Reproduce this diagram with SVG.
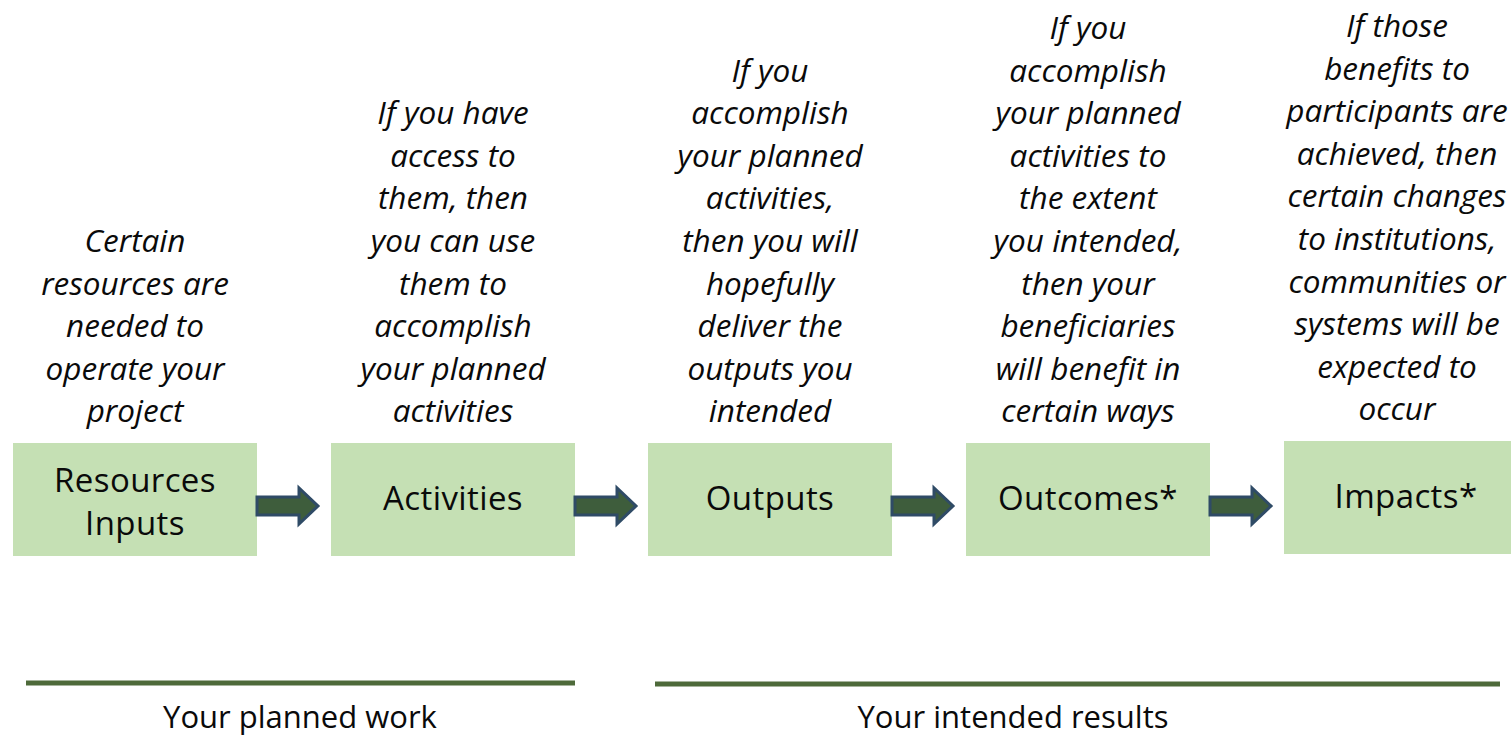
<svg xmlns="http://www.w3.org/2000/svg" xmlns:xlink="http://www.w3.org/1999/xlink" width="1511" height="736" viewBox="0 0 1511 736">
<style>
.box{fill:#c5e0b4;}
.lbl{font-family:"Open Sans","Noto Sans","Liberation Sans",sans-serif;font-size:33px;letter-spacing:0.4px;fill:#0a0a0a;text-anchor:middle;}
.desc{font-family:"Open Sans","Noto Sans","Liberation Sans",sans-serif;font-size:31.5px;font-style:italic;fill:#0a0a0a;text-anchor:middle;}
.arrow{fill:#3e5d3c;stroke:#2f4b66;stroke-width:3;stroke-linejoin:miter;}
.bar{stroke:#4e6a3a;stroke-width:5;}
.foot{font-family:"Open Sans","Noto Sans","Liberation Sans",sans-serif;font-size:31px;fill:#0a0a0a;text-anchor:middle;}
</style>
<defs>
<path id="arr" d="M0 -9 H42 V-18 L61 0 L42 18 V9 H0 Z"/>
</defs>
<rect width="1511" height="736" fill="#ffffff"/>

<g id="node-resources">
<text class="desc"><tspan x="135" y="252">Certain</tspan><tspan x="135" y="294.6">resources are</tspan><tspan x="135" y="337.2">needed to</tspan><tspan x="135" y="379.8">operate your</tspan><tspan x="135" y="422.4">project</tspan></text>
<rect class="box" x="13" y="443" width="244" height="113"/>
<text class="lbl"><tspan x="135" y="492">Resources</tspan><tspan x="135" y="535">Inputs</tspan></text>
</g>

<g id="node-activities">
<text class="desc"><tspan x="453" y="124.2">If you have</tspan><tspan x="453" y="166.8">access to</tspan><tspan x="453" y="209.4">them, then</tspan><tspan x="453" y="252">you can use</tspan><tspan x="453" y="294.6">them to</tspan><tspan x="453" y="337.2">accomplish</tspan><tspan x="453" y="379.8">your planned</tspan><tspan x="453" y="422.4">activities</tspan></text>
<rect class="box" x="331" y="443" width="244" height="113"/>
<text class="lbl" x="453" y="510">Activities</text>
</g>

<g id="node-outputs">
<text class="desc"><tspan x="770" y="81.6">If you</tspan><tspan x="770" y="124.2">accomplish</tspan><tspan x="770" y="166.8">your planned</tspan><tspan x="770" y="209.4">activities,</tspan><tspan x="770" y="252">then you will</tspan><tspan x="770" y="294.6">hopefully</tspan><tspan x="770" y="337.2">deliver the</tspan><tspan x="770" y="379.8">outputs you</tspan><tspan x="770" y="422.4">intended</tspan></text>
<rect class="box" x="648" y="443" width="244" height="113"/>
<text class="lbl" x="770" y="510">Outputs</text>
</g>

<g id="node-outcomes">
<text class="desc"><tspan x="1088" y="39">If you</tspan><tspan x="1088" y="81.6">accomplish</tspan><tspan x="1088" y="124.2">your planned</tspan><tspan x="1088" y="166.8">activities to</tspan><tspan x="1088" y="209.4">the extent</tspan><tspan x="1088" y="252">you intended,</tspan><tspan x="1088" y="294.6">then your</tspan><tspan x="1088" y="337.2">beneficiaries</tspan><tspan x="1088" y="379.8">will benefit in</tspan><tspan x="1088" y="422.4">certain ways</tspan></text>
<rect class="box" x="966" y="443" width="244" height="113"/>
<text class="lbl" x="1088" y="510">Outcomes*</text>
</g>

<g id="node-impacts">
<text class="desc"><tspan x="1397" y="37">If those</tspan><tspan x="1397" y="79.6">benefits to</tspan><tspan x="1397" y="122.2">participants are</tspan><tspan x="1397" y="164.8">achieved, then</tspan><tspan x="1397" y="207.4">certain changes</tspan><tspan x="1397" y="250">to institutions,</tspan><tspan x="1397" y="292.6">communities or</tspan><tspan x="1397" y="335.2">systems will be</tspan><tspan x="1397" y="377.8">expected to</tspan><tspan x="1397" y="420.4">occur</tspan></text>
<rect class="box" x="1284" y="441" width="244" height="113"/>
<text class="lbl" x="1406" y="508">Impacts*</text>
</g>

<g id="connectors">
<use xlink:href="#arr" class="arrow" transform="translate(257,506)"/>
<use xlink:href="#arr" class="arrow" transform="translate(575,506)"/>
<use xlink:href="#arr" class="arrow" transform="translate(892,506)"/>
<use xlink:href="#arr" class="arrow" transform="translate(1210,506)"/>
</g>

<g id="footer">
<line class="bar" x1="26" y1="683" x2="575" y2="683"/>
<text class="foot" x="300" y="728">Your planned work</text>
<line class="bar" x1="655" y1="684" x2="1500" y2="684"/>
<text class="foot" x="1013" y="728">Your intended results</text>
</g>
</svg>
